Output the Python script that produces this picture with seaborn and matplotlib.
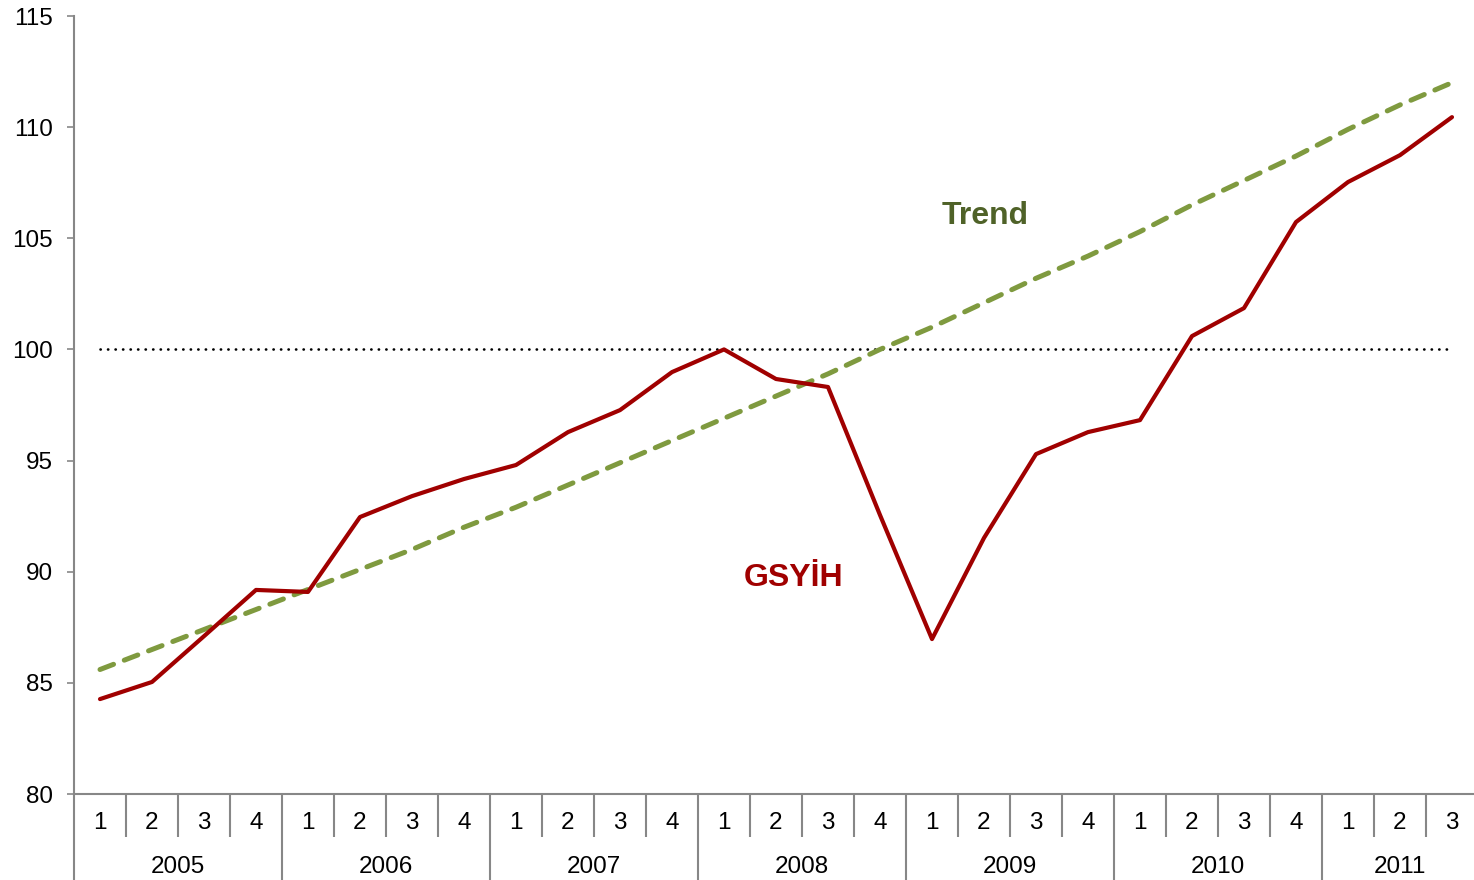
import matplotlib
matplotlib.use("Agg")
import matplotlib.pyplot as plt
import matplotlib.transforms as mtransforms
import seaborn as sns
import pandas as pd
import numpy as np

years = ["2005", "2006", "2007", "2008", "2009", "2010", "2011"]
quarters_per_year = [4, 4, 4, 4, 4, 4, 3]
quarter_labels = ["1", "2", "3", "4"] * 6 + ["1", "2", "3"]

gsyih = [84.27, 85.04, 87.10, 89.18, 89.09, 92.46, 93.40, 94.17, 94.80, 96.28,
         97.27, 98.98, 100.00, 98.67, 98.31, 92.55, 86.97, 91.52, 95.29, 96.28,
         96.82, 100.60, 101.86, 105.73, 107.53, 108.74, 110.45]
trend = [85.6, 86.5, 87.4, 88.3, 89.2, 90.1, 91.0, 92.0, 92.9, 93.9,
         94.9, 95.9, 96.9, 97.9, 98.9, 100.0, 101.0, 102.1, 103.2, 104.2,
         105.3, 106.5, 107.6, 108.7, 109.9, 111.0, 112.0]
base_level = 100

sns.set_style("white")
plt.rcParams['font.family'] = ['Liberation Sans', 'DejaVu Sans']

n = len(gsyih)
df = pd.DataFrame({"idx": np.arange(n), "GSYİH": gsyih, "Trend": trend})

fig = plt.figure(figsize=(14.74, 8.8), dpi=100)
ax = fig.add_axes([74/1474, 1-794/880, 1404/1474, 778/880])

red = "#A00000"
green = "#7F9A3F"
axis_gray = "#878787"
fs = 17.5

dot_line, = ax.plot(df["idx"], [base_level]*n, color="black", lw=1.9,
                    ls=(0, (0.1, 2.75)), zorder=1)
dot_line.set_dash_capstyle("round")
sns.lineplot(data=df, x="idx", y="Trend", ax=ax, color=green, lw=3.6,
             dashes=False, zorder=2)
ax.lines[-1].set_linestyle((0, (2.9, 2.3)))
ax.lines[-1].set_dash_capstyle("round")
sns.lineplot(data=df, x="idx", y="GSYİH", ax=ax, color=red, lw=3.0, zorder=3)
ax.lines[-1].set_solid_capstyle("round")

ax.set_xlim(-0.5, n - 0.5)
ax.set_ylim(80, 115)
ax.set_yticks(np.arange(80, 116, 5))
ax.tick_params(axis="y", direction="out", length=5, width=1.2, color=axis_gray,
               labelsize=fs, labelcolor="black", pad=10, left=True)

for s in ["top", "right"]:
    ax.spines[s].set_visible(False)
for s in ["left", "bottom"]:
    ax.spines[s].set_color(axis_gray)
    ax.spines[s].set_linewidth(1.5)

# boundaries
year_bounds = np.cumsum([0] + quarters_per_year) - 0.5
all_bounds = np.arange(n + 1) - 0.5
minor_bounds = [b for b in all_bounds if b not in set(year_bounds)]
ax.set_xticks(year_bounds)
ax.set_xticks(minor_bounds, minor=True)
ax.set_xticklabels([])
ax.tick_params(axis="x", which="major", direction="out", length=62, width=1.5,
               color=axis_gray, bottom=True)
ax.tick_params(axis="x", which="minor", direction="out", length=31, width=1.5,
               color=axis_gray, bottom=True)
ax.set_xlabel("")
ax.set_ylabel("")

trans = mtransforms.blended_transform_factory(ax.transData, ax.transAxes)
q_y = -(823 - 794) / 778
y_y = -(867 - 794) / 778
for i, q in enumerate(quarter_labels):
    ax.text(i, q_y, q, transform=trans, ha="center", va="center", fontsize=fs,
            color="black")
start = 0
for yr, k in zip(years, quarters_per_year):
    ax.text(start + (k - 1) / 2, y_y, yr, transform=trans, ha="center",
            va="center", fontsize=fs, color="black")
    start += k

ax.text(17.02, 106.0, "Trend", ha="center", va="center", fontsize=23,
        fontweight="bold", color="#4F6228")
ax.text(13.33, 89.7, "GSYİH", ha="center", va="center", fontsize=23,
        fontweight="bold", color=red)

fig.savefig("out.png", dpi=100)
